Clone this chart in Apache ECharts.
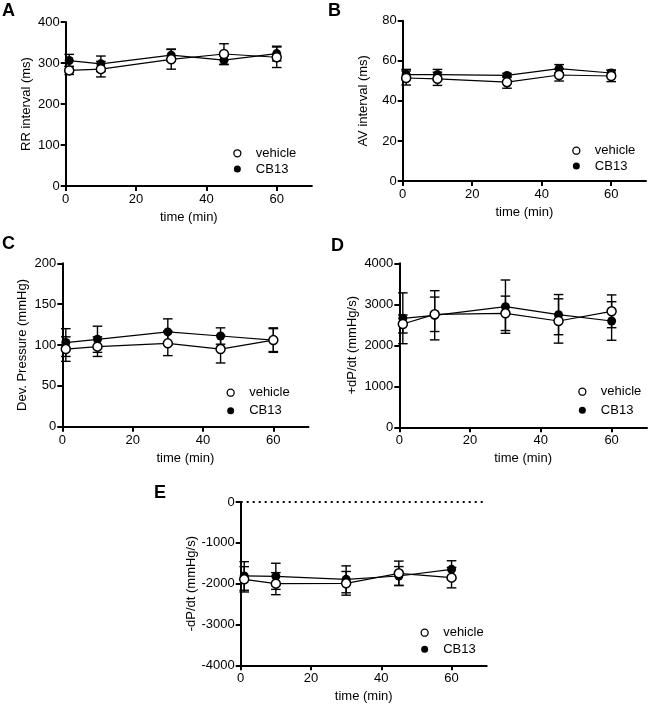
<!DOCTYPE html>
<html>
<head>
<meta charset="utf-8">
<script src="https://cdn.jsdelivr.net/npm/echarts@6/dist/echarts.min.js"></script>
<style>html,body{margin:0;padding:0;background:#fff;}#c{width:650px;height:710px;}</style>
</head>
<body>
<div id="c"></div>
<script>
var time = [1, 10, 30, 45, 60];
var xTicks = [0, 20, 40, 60];

var rrVehicle = [282, 285, 309, 322, 314];
var rrVehicleErr = [10, 19, 24, 25, 25];
var rrCB13 = [306, 298, 319, 307, 323];
var rrCB13Err = [15, 19, 15, 11, 18];

var avVehicle = [51.4, 51.0, 49.3, 52.9, 52.4];
var avVehicleErr = [3.5, 3.3, 3.0, 3.0, 2.8];
var avCB13 = [53.1, 53.1, 52.7, 56.1, 53.9];
var avCB13Err = [2.6, 2.6, 1.0, 2.0, 1.5];

var dpVehicle = [95, 98, 102, 95, 106];
var dpVehicleErr = [15, 12, 15, 17, 14];
var dpCB13 = [103, 107, 116, 111, 106];
var dpCB13Err = [17, 16, 16, 10, 15];

var pdVehicle = [2520, 2756, 2780, 2593, 2829];
var pdVehicleErr = [220, 420, 420, 540, 400];
var pdCB13 = [2659, 2732, 2943, 2748, 2593];
var pdCB13Err = [620, 600, 650, 490, 470];

var ndVehicle = [-1894, -2000, -1992, -1747, -1853];
var ndVehicleErr = [310, 270, 290, 300, 250];
var ndCB13 = [-1812, -1820, -1894, -1812, -1649];
var ndCB13Err = [350, 320, 330, 230, 210];

var panelLetters = ['A', 'B', 'C', 'D', 'E'];
var yNames = ['RR interval (ms)', 'AV interval (ms)', 'Dev. Pressure (mmHg)', '+dP/dt (mmHg/s)', '-dP/dt (mmHg/s)'];
var yMin = [0, 0, 0, 0, -4000];
var yMax = [400, 80, 200, 4000, 0];
var yInterval = [100, 20, 50, 1000, 1000];

var FONT = "'Liberation Sans', Arial, sans-serif";

var grids = [
  {left: 65.7, top: 22, width: 246.2, height: 164},
  {left: 402.7, top: 20.7, width: 243.3, height: 160.3},
  {left: 62.3, top: 263.3, width: 246.2, height: 163.4},
  {left: 399.3, top: 263.3, width: 247.7, height: 164},
  {left: 240.7, top: 502, width: 246, height: 163.3}
];
var yNameGap = [33, 33, 33, 40, 42];
var letterPos = [[2, 2], [328, 2], [2, 235], [331, 237], [154, 484]];
var legendPos = [
  {left: 233.2, top: 146.3, gap: 1.7},
  {left: 572.2, top: 143.7, gap: 1.3},
  {left: 226.5, top: 385.7, gap: 4},
  {left: 578.2, top: 384.7, gap: 4.6},
  {left: 420.5, top: 625.7, gap: 2.6}
];

var panels = [
  [rrVehicle, rrVehicleErr, rrCB13, rrCB13Err],
  [avVehicle, avVehicleErr, avCB13, avCB13Err],
  [dpVehicle, dpVehicleErr, dpCB13, dpCB13Err],
  [pdVehicle, pdVehicleErr, pdCB13, pdCB13Err],
  [ndVehicle, ndVehicleErr, ndCB13, ndCB13Err]
];

function pts(vals) { return time.map(function (t, i) { return [t, vals[i]]; }); }
function errPts(vals, errs) { return time.map(function (t, i) { return [t, vals[i] - errs[i], vals[i] + errs[i]]; }); }

function errorRender(params, api) {
  var x = api.value(0);
  var lo = api.coord([x, api.value(1)]);
  var hi = api.coord([x, api.value(2)]);
  var hw = 4.8;
  var st = {stroke: '#000', lineWidth: 1.4};
  return {
    type: 'group',
    children: [
      {type: 'line', shape: {x1: lo[0], y1: lo[1], x2: hi[0], y2: hi[1]}, style: st},
      {type: 'line', shape: {x1: lo[0] - hw, y1: lo[1], x2: lo[0] + hw, y2: lo[1]}, style: st},
      {type: 'line', shape: {x1: hi[0] - hw, y1: hi[1], x2: hi[0] + hw, y2: hi[1]}, style: st}
    ]
  };
}

var xAxes = [], yAxes = [], series = [], titles = [], legends = [];
var axisLineStyle = {color: '#000', width: 2};
grids.forEach(function (g, k) {
  xAxes.push({
    type: 'value', gridIndex: k, min: 0, max: 70, interval: 20,
    name: 'time (min)', nameLocation: 'middle', nameGap: 25,
    nameTextStyle: {fontSize: 13, color: '#000', fontFamily: FONT},
    axisLine: {show: true, onZero: false, lineStyle: axisLineStyle},
    axisTick: {show: true, length: 5, lineStyle: axisLineStyle, customValues: xTicks},
    axisLabel: {fontSize: 13, color: '#000', fontFamily: FONT, margin: 7, customValues: xTicks,
      formatter: function (v) { return String(v); }},
    splitLine: {show: false}
  });
  yAxes.push({
    type: 'value', gridIndex: k, min: yMin[k], max: yMax[k], interval: yInterval[k],
    name: yNames[k], nameLocation: 'middle', nameGap: yNameGap[k],
    nameTextStyle: {fontSize: 13, color: '#000', fontFamily: FONT},
    axisLine: {show: true, onZero: false, lineStyle: axisLineStyle},
    axisTick: {show: true, length: 5, lineStyle: axisLineStyle},
    axisLabel: {fontSize: 13, color: '#000', fontFamily: FONT, margin: 6,
      formatter: function (v) { return String(v); }},
    splitLine: {show: false}
  });
  titles.push({
    text: panelLetters[k], left: letterPos[k][0], top: letterPos[k][1],
    textStyle: {fontSize: 18, fontWeight: 'bold', color: '#000', fontFamily: FONT}, padding: 0
  });
  legends.push({
    orient: 'vertical', align: 'left', left: legendPos[k].left, top: legendPos[k].top,
    itemGap: legendPos[k].gap, itemWidth: 7, itemHeight: 7, icon: 'circle', selectedMode: false, padding: 0,
    textStyle: {fontSize: 13, color: '#000', fontFamily: FONT, lineHeight: 14, padding: [0, 0, 0, 10]},
    data: [
      {name: 'vehicle', itemStyle: {color: '#fff', borderColor: '#000', borderWidth: 1.3}},
      {name: 'CB13', itemStyle: {color: '#000', borderWidth: 0}}
    ]
  });
  var d = panels[k];
  series.push({
    type: 'custom', name: 'vehicle-err', xAxisIndex: k, yAxisIndex: k, renderItem: errorRender,
    data: errPts(d[0], d[1]), encode: {x: 0, y: [1, 2]}, z: 1, silent: true
  });
  series.push({
    type: 'custom', name: 'CB13-err', xAxisIndex: k, yAxisIndex: k, renderItem: errorRender,
    data: errPts(d[2], d[3]), encode: {x: 0, y: [1, 2]}, z: 1, silent: true
  });
  var cb = {
    type: 'line', name: 'CB13', xAxisIndex: k, yAxisIndex: k, data: pts(d[2]),
    symbol: 'circle', symbolSize: 9, showAllSymbol: true,
    lineStyle: {color: '#000', width: 1.2}, itemStyle: {color: '#000'},
    emphasis: {disabled: true}, z: 3, animation: false
  };
  if (k === 4) {
    cb.markLine = {
      symbol: 'none', silent: true, animation: false, label: {show: false},
      lineStyle: {type: [2, 4], color: '#000', width: 2},
      data: [{yAxis: 0}]
    };
  }
  series.push({
    type: 'line', name: 'vehicle', xAxisIndex: k, yAxisIndex: k, data: pts(d[0]),
    symbol: 'circle', symbolSize: 9, showAllSymbol: true,
    lineStyle: {color: '#000', width: 1.2}, itemStyle: {color: '#fff', borderColor: '#000', borderWidth: 1.5},
    emphasis: {disabled: true}, z: 4, animation: false
  });
  series.push(cb);
});

var chart = echarts.init(document.getElementById('c'));
chart.setOption({
  animation: false,
  backgroundColor: '#fff',
  title: titles,
  legend: legends,
  grid: grids,
  xAxis: xAxes,
  yAxis: yAxes,
  series: series
});
</script>
</body>
</html>
